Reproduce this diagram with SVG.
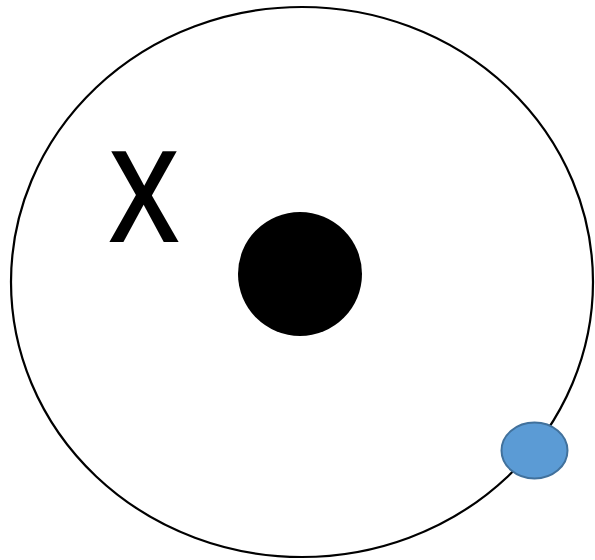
<svg xmlns="http://www.w3.org/2000/svg" width="595" height="560" viewBox="0 0 595 560">
<style>
.lbl{font-family:"Open Sans","Liberation Sans",sans-serif;font-size:127px;font-weight:600;fill:#000}
</style>
<rect width="595" height="560" fill="#fff"/>
<g id="orbit"><ellipse cx="302" cy="282" rx="291" ry="275" fill="none" stroke="#000" stroke-width="2.2"/></g>
<g id="label"><text class="lbl" x="0" y="242" text-anchor="middle" transform="translate(144 0) scale(0.88 1)">X</text></g>
<g id="nucleus"><circle cx="300" cy="274" r="62" fill="#000"/></g>
<g id="particle"><ellipse cx="534.5" cy="450.5" rx="33" ry="28" fill="#5B9BD5" stroke="#41719C" stroke-width="2"/></g>
</svg>
